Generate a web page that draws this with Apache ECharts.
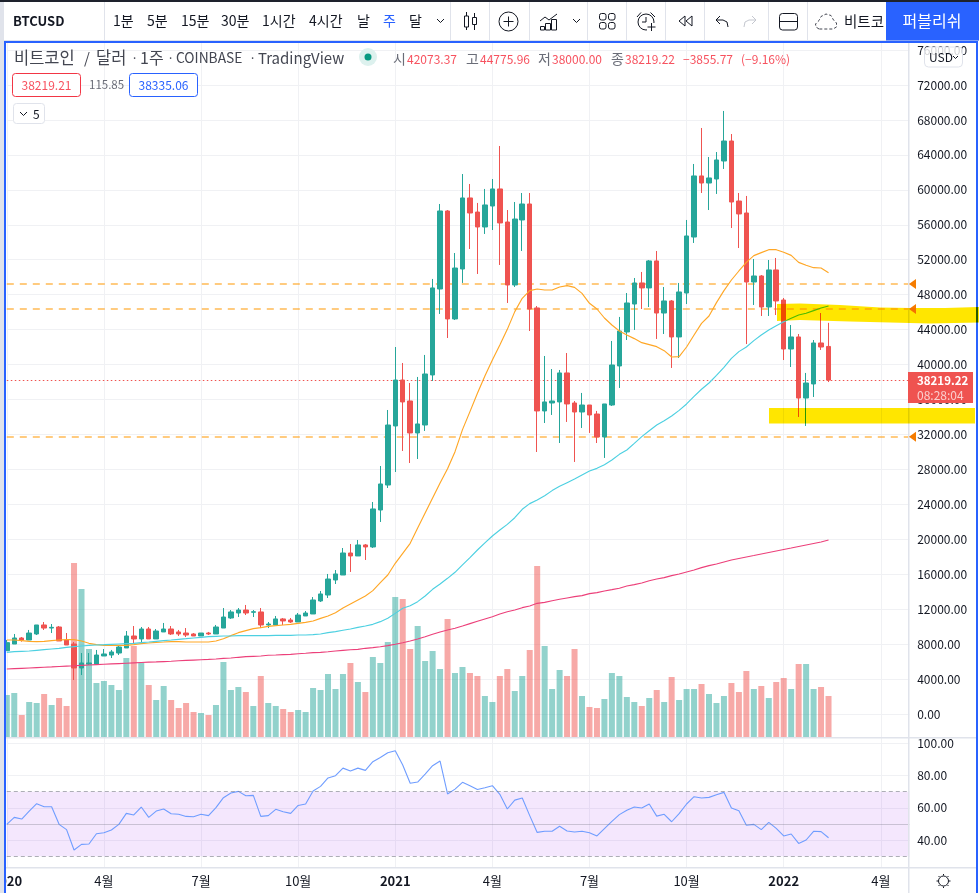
<!DOCTYPE html>
<html><head><meta charset="utf-8">
<style>html,body{margin:0;padding:0;background:#fff}#c{width:979px;height:893px}</style>
<script src="https://cdn.jsdelivr.net/npm/echarts@6/dist/echarts.min.js"></script>
</head><body><div id="c"></div>
<script>
const firstWeek = '2020-01-06';
const weekCount = 122;
const tickDates = ['2020-01-06','2020-04-06','2020-07-06','2020-10-05','2021-01-04','2021-04-05','2021-07-05','2021-10-04','2022-01-03','2022-04-04'];
const tickLabels = ['2020','4월','7월','10월','2021','4월','7월','10월','2022','4월'];
const priceTicks = [0,4000,8000,12000,16000,20000,24000,28000,32000,36000,40000,44000,48000,52000,56000,60000,64000,68000,72000,76000];
const rsiTicks = [40,60,80,100];

const opens = [7250,8010,8700,8470,9160,10190,9840,9960,8470,8010,
5270,5720,5720,6640,6750,6980,7560,8930,8590,9730,
8590,9390,9730,9390,9270,9160,8930,9270,9160,9840,
10990,11560,11900,11640,11680,10190,10190,10880,10760,10530,
11220,11450,12940,13620,15340,15910,18430,18090,19350,19120,
23350,26210,32970,38230,35830,32170,33080,38810,48650,57580,
45220,50940,59070,57460,55750,58150,60100,56320,49110,56550,
58380,46480,34690,35600,35720,39040,35600,34570,35370,34340,
31710,35370,39840,43730,46930,49340,48770,51860,45900,47280,
43160,48190,54600,61590,60780,61240,63300,65590,58720,57350,
49450,50140,46590,50830,47390,41780,43160,36170,37780,42470,
42073.37];
const closes = [8170,8700,8470,9270,10190,9840,9920,8360,7900,5270,
5840,5840,6750,6870,7100,7670,8930,8590,9730,8590,
9500,9730,9160,9160,9040,8930,9270,9160,9960,11100,
11680,11900,11560,11710,10190,10300,10880,10650,10530,11330,
11560,13050,13740,15450,16030,18430,18090,19350,19120,23470,
26330,33080,38230,35720,32170,33200,38920,48770,57580,45220,
51050,59070,57350,55750,58270,60100,56210,49110,56660,58380,
46360,34690,35720,35830,39040,35490,34570,35370,34230,31710,
35490,39950,43840,47050,49340,48770,51860,45900,47280,43160,
48310,54720,61590,60780,61360,63420,65590,58610,57240,49450,
50140,46590,50830,47280,41780,43160,36170,37890,42470,42010,
38219.22];
const lows = [7250,8010,8280,8470,9040,9620,9270,8360,7900,3890,
4460,5610,5720,6640,6410,6750,7560,8130,8240,8590,
8590,9390,9040,8930,8810,8930,8930,9040,9160,9840,
10880,11100,11330,11100,9840,9840,10190,10190,10420,10530,
11220,11450,12820,13280,14880,15910,16260,18090,17630,19000,
21980,25870,27700,30110,28730,29190,32400,38120,45790,43040,
45100,49340,53230,50370,54950,55400,51400,47050,48880,53000,
43840,29990,33310,34230,31020,33430,28850,32740,32170,31020,
29310,35260,37320,42810,43960,46360,46590,42930,43500,39610,
40750,46930,53920,59640,57690,59530,62390,55630,53340,42350,
46820,45560,45560,45670,40520,39720,34000,32970,36290,41670,
38000];
const highs = [8470,9160,8810,9620,10190,10530,10300,10070,9270,8240,
6980,6980,7330,7440,7330,7780,9500,10070,9960,9960,
9730,10420,10070,9620,9840,9270,9270,9390,10190,12130,
11900,12130,12480,11900,12130,10530,11220,10990,10990,11560,
11790,13390,14080,16030,16480,19000,19460,19920,19460,24270,
28390,34800,42010,40180,37890,38580,41100,49800,58380,57690,
52770,61810,60670,58500,60100,61240,65020,57690,58610,59640,
59640,46700,40980,39490,39380,41320,35830,36750,35370,34690,
35490,42700,45450,48190,49910,50600,51970,53000,48880,47390,
49340,56550,62960,67080,63760,64330,69030,66390,59640,59300,
52080,50250,51970,52200,47620,44530,43500,39040,42810,45900,
44775.96];
const volumes = [21,22,11,17.5,17,21.5,16,19.5,15.5,87,
74,44,27,28,26,23.5,39.5,45.5,37,26,
18.5,25.5,18.5,14.5,17,12.5,12,11,16,37.5,
23.5,25,22.5,15.5,30.5,17,15.5,14,12.5,13.5,
12.5,24.5,23.5,31.5,24,31.5,37,27.5,22.5,40,
37,47.5,70,69,44,55.5,38,43,34,59,
32,35,32,30.5,20.5,17.5,30.5,34,23,30.5,
43.5,85.5,45.5,24,33.5,30.5,44,20.5,15,14.5,
19,32,30.5,20,17.5,15.5,19.5,23.5,17.5,30,
18.5,24,24,26.5,21.5,17,20.5,27,22.5,33,
24,25.5,19.5,27.5,29.5,24,36.5,36.5,24,25,
20.5];
const ma20 = [8470,8470,8395,8320,8280,8320,8395,8470,8510,8510,
8355,8090,7935,7860,7860,7860,7860,7935,8050,8125,
8205,8240,8280,8280,8240,8240,8240,8240,8355,8620,
8970,9310,9540,9770,9880,10035,10110,10190,10260,10380,
10490,10650,10950,11220,11600,12130,12590,13050,13510,14120,
15030,15910,17250,18390,19540,21290,23010,24730,26440,28080,
30030,32550,34610,36710,38690,40520,42240,44030,46060,47580,
48460,48650,48540,48540,48880,49030,48840,48150,47010,46360,
45330,44530,43840,43380,42970,42510,42280,42050,41590,40870,
40900,42010,43380,44720,45560,47090,48460,49680,50710,51700,
52470,52810,53150,53150,52850,52500,51700,51360,51090,51050,
50520];
const ma50 = [7060,7135,7175,7210,7290,7365,7440,7515,7630,7710,
7785,7860,7900,7935,7975,8015,8050,8090,8165,8240,
8320,8395,8470,8550,8620,8700,8775,8850,8890,8930,
8930,8970,8970,8970,8970,8970,9005,9005,9005,9045,
9045,9080,9160,9310,9425,9580,9730,9920,10070,10265,
10570,10950,11520,12100,12400,12860,13510,14270,14880,15530,
16220,17060,17900,18770,19580,20380,21060,21710,22470,23430,
24080,24500,24990,25570,26060,26480,26900,27360,27820,28120,
28540,29080,29720,30220,30980,31750,32430,33080,33580,34110,
34760,35490,36360,37170,37890,38770,39680,40710,41480,42010,
42740,43380,43960,44450,44910,45290,45670,45870,46170,46480,
46700];
const ma200 = [5150,5190,5230,5270,5310,5350,5390,5440,5480,5520,
5570,5610,5650,5690,5730,5770,5810,5850,5890,5930,
5960,6000,6040,6090,6130,6170,6210,6250,6300,6370,
6410,6490,6560,6600,6640,6720,6750,6790,6830,6900,
6950,7020,7060,7130,7210,7290,7360,7400,7520,7590,
7700,7820,7980,8160,8360,8590,8850,9120,9390,9620,
9810,10070,10340,10610,10880,11140,11450,11710,11910,12170,
12360,12670,12780,12970,13130,13280,13430,13550,13780,13890,
14080,14230,14390,14650,14810,15000,15260,15450,15610,15840,
16030,16260,16480,16750,16980,17170,17400,17630,17800,17970,
18140,18320,18490,18660,18830,19000,19180,19350,19520,19690,
19920];
const rsi = [49.8,54.1,53.1,58.0,62.6,60.7,60.7,49.8,46.5,33.9,
37.4,37.6,44.0,44.6,46.3,49.8,56.6,55.6,60.5,54.1,
58.0,59.3,56.4,56.0,54.7,54.5,56.0,55.2,60.1,66.3,
69.2,70.2,67.5,67.7,54.7,55.2,59.1,57.6,56.6,61.5,
62.4,70.4,73.3,78.5,79.9,84.6,82.8,84.6,83.2,88.6,
91.2,94.1,95.4,86.5,75.2,76.0,80.9,86.1,89.0,68.6,
71.6,75.8,73.7,71.4,72.5,73.7,68.4,59.3,64.8,66.1,
55.2,44.8,45.5,45.5,48.6,45.7,45.1,45.5,44.6,42.6,
47.1,51.6,55.8,58.5,60.5,59.9,62.4,54.9,56.0,51.4,
56.4,62.4,66.9,66.1,66.5,68.1,69.6,59.9,58.2,49.2,
49.8,46.5,51.0,47.3,42.6,43.8,38.0,40.1,45.5,45.3,
41.5];
const levels = [49222,46360,31743];
const lastPrice = 38219.22;

const UP='#26A69A', DOWN='#EF5350', GRID='#F0F1F4', BORDER='#E0E3EB', BLUE='#2962FF', INK='#131722';
const FONT='"Noto Sans CJK KR","Noto Sans",sans-serif';

const categories=[];
{const d=new Date(firstWeek+'T00:00:00Z');
 for(let i=0;i<weekCount;i++){categories.push(d.toISOString().slice(0,10));d.setUTCDate(d.getUTCDate()+7);}}
const tickOf=(i,v)=>tickDates.includes(v);
const labelOf=v=>{const k=tickDates.indexOf(v);if(k<0)return '';const t=tickLabels[k];return /^\d{4}$/.test(t)?'{y|'+t+'}':t;};

const candle=opens.map((o,i)=>[o,closes[i],lows[i],highs[i]]);

// page furniture
const ui=[];
const rect=(x,y,w,h,fill,z=60,extra={})=>ui.push({type:'rect',silent:true,z,shape:{x,y,width:w,height:h,r:extra.r||0},style:{fill,stroke:extra.stroke||null,lineWidth:extra.lw||1,blend:extra.blend}});
const text=(s,x,y,o={})=>ui.push({type:'text',silent:true,z:o.z||65,x,y,style:{text:s,fill:o.fill||INK,font:(o.weight||'normal')+' '+(o.size||13)+'px '+FONT,textAlign:o.align||'left',textVerticalAlign:'middle'}});
const pl=(pts,stroke=INK,o={})=>ui.push({type:'polyline',silent:true,z:o.z||65,shape:{points:pts},style:{stroke,fill:null,lineWidth:o.lw||1,lineDash:o.dash||null}});
const pg=(pts,o={})=>ui.push({type:'polygon',silent:true,z:o.z||65,shape:{points:pts},style:{fill:o.fill||null,stroke:o.stroke||null,lineWidth:o.lw||1,blend:o.blend,lineDash:o.dash||null}});
const circ=(cx,cy,r,o={})=>ui.push({type:'circle',silent:true,z:o.z||65,shape:{cx,cy,r},style:{fill:o.fill||null,stroke:o.stroke||null,lineWidth:o.lw||1}});

// covers right end of plot, separators
rect(909.5,43,5,824,'#fff',50);
rect(6,737,970,1.5,BORDER,55);
rect(6,867,970,1.5,BORDER,55);
rect(908,43,1.5,850,BORDER,55);

// toolbar
rect(0,0,979,2,'#1E222D',70);
rect(0,2,4,891,BORDER,70);
rect(4,2,975,38.5,'#fff',58);
rect(4,40,975,1,BORDER,59);
[104,450,489,529,587,626,665,704,768,807].forEach(x=>rect(x,2,1,38,BORDER,60));
rect(886,2,93,38.5,BLUE,60);
text('BTCUSD',13,21,{weight:'bold',size:13});
[['1분',113],['5분',147],['15분',181],['30분',221],['1시간',262],['4시간',309],['날',357],['달',409]].forEach(a=>text(a[0],a[1],21,{size:14}));
text('주',383,21,{size:14,fill:BLUE});
pl([[437,19],[440.5,22.5],[444,19]]);
// candle icon
pl([[466.5,12],[466.5,16]]);pl([[466.5,27],[466.5,30]]);rect(464.5,16,4,11,null,65,{stroke:INK});
pl([[474.5,13],[474.5,17.5]]);pl([[474.5,24.5],[474.5,30]]);rect(472.5,17.5,4,7,null,65,{stroke:INK});
// add
circ(508.5,21.5,9.5,{stroke:INK});pl([[503.5,21.5],[513.5,21.5]]);pl([[508.5,16.5],[508.5,26.5]]);
// indicators
pl([[540,21],[545,17],[549,20],[557,14]]);
rect(540.5,26.5,4,3.5,null,65,{stroke:INK});rect(545.5,23.5,5,6.5,null,65,{stroke:INK});rect(551.5,19.5,5,10.5,null,65,{stroke:INK});
pl([[573,19],[576.5,22.5],[580,19]]);
// layouts
[[599.5,13.5],[608.5,13.5],[599.5,22.5],[608.5,22.5]].forEach(p=>rect(p[0],p[1],6.5,6.5,null,65,{stroke:INK,r:2}));
// alarm
circ(646,22,8,{stroke:INK});pl([[637,17],[641,12.5]]);pl([[650.5,12.5],[655,17]]);pl([[646,17],[646,22],[642,22]]);
rect(647,23,9,9,'#fff',65);pl([[651.5,23],[651.5,31]]);pl([[647.5,27],[655.5,27]]);
// rewind
pg([[685,16],[679,21],[685,26]],{stroke:INK});pg([[692,16],[686,21],[692,26]],{stroke:INK});
// undo redo
pl([[720,16],[716,20],[720,24]]);pl([[716,20],[723,20],[727,22],[728,27]]);
pl([[752,16],[756,20],[752,24]],'#C4C7CF');pl([[756,20],[749,20],[745,22],[744,27]],'#C4C7CF');
// pane layout
rect(779.5,13.5,18,16.5,null,65,{stroke:INK,r:3});pl([[779.5,21.5],[797.5,21.5]]);
// cloud
pg([[819,29],[816,27],[815.5,24],[819,20.5],[821,16.5],[826,14],[831,15.5],[833.5,20],[836.5,23],[836.5,27],[833,29]],{stroke:'#434651',dash:[3,2]});
text('비트코',844,21,{size:14.5});
text('퍼블리쉬',932,21,{size:16,fill:'#fff',align:'center'});

// blue frame
rect(4,41,974,2,BLUE,70);rect(4,41,2,852,BLUE,70);rect(976,41,2,852,BLUE,70);

// legend
const TC='#434651';
[['비트코인',14,16.5],['/',84,15],['달러',96,16.5],['·',131,13],['1주',140,16],['·',167,13],['COINBASE',176,13.8],['·',249,13],['TradingView',258,15]].forEach(a=>text(a[0],a[1],58,{size:a[2],fill:TC}));
circ(368,57,9,{fill:'#DDF1EE'});circ(368,57,3.5,{fill:'#089981'});
const G='#6A6D78',R='#F7525F';
[['시',393,G,14],['42073.37',407,R,12],['고',466,G,14],['44775.96',480,R,12],['저',538,G,14],['38000.00',552,R,12],['종',611,G,14],['38219.22',625,R,12],['−3855.77',683,R,12],['(−9.16%)',741,R,12]].forEach(a=>text(a[0],a[1],59,{size:a[3],fill:a[2]}));
rect(12.5,73.5,68,23,'#fff',64,{stroke:'#F23645',r:3});text('38219.21',46.5,85,{size:12,fill:R,align:'center'});
text('115.85',89,85,{size:11.5,fill:G});
rect(129.5,73.5,68,23,'#fff',64,{stroke:BLUE,r:3});text('38335.06',163.5,85,{size:12,fill:BLUE,align:'center'});
rect(13.5,103.5,31,20,'#fff',64,{stroke:BORDER,r:3});pl([[20,112],[23.5,115.5],[27,112]]);text('5',33,114,{size:12});

// USD box
rect(924.5,47,38,20,'rgba(255,255,255,0.8)',64,{stroke:BORDER,r:4});text('USD',929,57,{size:12});pl([[953,56],[955.5,58.5],[958,56]]);

// last price tag
rect(908,372,65,31,DOWN,66);
text('38219.22',917,381,{size:11.5,fill:'#fff',weight:'bold',z:67});
text('08:28:04',917,395,{size:12,fill:'rgba(255,255,255,0.72)',z:67});

// level markers
[284,309,436.7].forEach(y=>pg([[909,y],[916,y-5],[916,y+5]],{fill:'#F57C00',z:60}));

// sun icon
circ(943.5,881,5,{stroke:INK});
[[0,-7,0,-5.5],[0,5.5,0,7],[-7,0,-5.5,0],[5.5,0,7,0],[-5,-5,-4,-4],[4,4,5,5],[-5,5,-4,4],[4,-4,5,-5]].forEach(r=>pl([[943.5+r[0],881+r[1]],[943.5+r[2],881+r[3]]]));

// hand-drawn yellow highlights
pg([[777,304],[800,303.5],[840,305],[880,307.5],[910,308],[945,308],[979,307],[979,322.5],[930,323.5],[890,322.5],[850,321.5],[800,320],[777,321]],{fill:'#FFE600',blend:'multiply',z:80});
rect(769,408,206,15.5,'#FFE600',80,{blend:'multiply'});

const L=6.8, W=903.9, RIGHT=979-L-W;
const gridBase={left:L,right:RIGHT,containLabel:false,outerBoundsMode:'none'};
const xBase={type:'category',boundaryGap:false,data:categories,axisLine:{show:false},axisTick:{show:false},axisLabel:{show:false}};
const vSplit={show:true,interval:(i,v)=>tickOf(i,v),lineStyle:{color:GRID,width:1}};

const option={
 animation:false,backgroundColor:'#fff',
 textStyle:{fontFamily:FONT},
 grid:[
  {...gridBase,top:43,height:694},
  {...gridBase,top:537,height:200},
  {...gridBase,top:738,height:129.3}
 ],
 xAxis:[
  {...xBase,gridIndex:0,splitLine:vSplit},
  {...xBase,gridIndex:1,splitLine:{show:false}},
  {...xBase,gridIndex:2,splitLine:vSplit,axisLabel:{show:true,interval:(i,v)=>tickOf(i,v),formatter:labelOf,color:INK,fontSize:13,margin:7,hideOverlap:false,showMinLabel:true,rich:{y:{fontWeight:'bold',fontSize:13,color:INK}}}}
 ],
 yAxis:[
  {gridIndex:0,type:'value',position:'right',min:-2633,max:76809,scale:false,axisLine:{show:false},
   axisTick:{show:false,customValues:priceTicks},
   axisLabel:{customValues:priceTicks,color:'#131722',fontSize:12,margin:6.5,formatter:v=>v.toFixed(2),showMinLabel:true,showMaxLabel:true},
   splitLine:{show:true,lineStyle:{color:GRID,width:1}}},
  {gridIndex:1,type:'value',min:0,max:100,show:false},
  {gridIndex:2,type:'value',position:'right',min:23.2,max:103.25,axisLine:{show:false},
   axisTick:{show:false,customValues:rsiTicks},
   axisLabel:{customValues:rsiTicks,color:'#131722',fontSize:12,margin:6.5,formatter:v=>v.toFixed(2)},
   splitLine:{show:true,lineStyle:{color:GRID,width:1}}}
 ],
 series:[
  {name:'Volume',type:'bar',xAxisIndex:1,yAxisIndex:1,barWidth:6,z:1,
   data:volumes.map((v,i)=>({value:v,itemStyle:{color:closes[i]>=opens[i]?'rgba(38,166,154,0.5)':'rgba(239,83,80,0.5)'}}))},
  {name:'BTCUSD',type:'candlestick',xAxisIndex:0,yAxisIndex:0,barWidth:5,z:3,data:candle,
   itemStyle:{color:UP,color0:DOWN,borderColor:UP,borderColor0:DOWN,borderWidth:1},
   markLine:{silent:true,symbol:['none','none'],label:{show:false},animation:false,z:2,
    data:[
     ...levels.map(v=>({yAxis:v,lineStyle:{color:'rgba(255,152,0,0.5)',width:2,type:[7,6]}})),
     {yAxis:lastPrice,lineStyle:{color:DOWN,width:1,type:[1.5,2.5]}}
    ]}},
  {name:'MA20',type:'line',xAxisIndex:0,yAxisIndex:0,data:ma20,symbol:'none',z:4,lineStyle:{color:'#FFA726',width:1.15}},
  {name:'MA50',type:'line',xAxisIndex:0,yAxisIndex:0,data:ma50,symbol:'none',z:4,lineStyle:{color:'#4DD0E1',width:1.15}},
  {name:'MA200',type:'line',xAxisIndex:0,yAxisIndex:0,data:ma200,symbol:'none',z:4,lineStyle:{color:'#EC407A',width:1.15}},
  {name:'RSI',type:'line',xAxisIndex:2,yAxisIndex:2,data:rsi,symbol:'none',z:4,lineStyle:{color:'#6F9DFF',width:1.1},
   markArea:{silent:true,itemStyle:{color:'rgba(155,39,240,0.11)'},data:[[{yAxis:30},{yAxis:70}]]},
   markLine:{silent:true,symbol:['none','none'],label:{show:false},animation:false,
    data:[
     {yAxis:70,lineStyle:{color:'rgba(120,123,134,0.6)',width:1,type:[4,3]}},
     {yAxis:50,lineStyle:{color:'rgba(120,123,134,0.35)',width:1,type:'solid'}},
     {yAxis:30,lineStyle:{color:'rgba(120,123,134,0.6)',width:1,type:[4,3]}}
    ]}}
 ],
 graphic:{elements:ui}
};
echarts.init(document.getElementById('c'),null,{renderer:'canvas'}).setOption(option);
</script></body></html>
